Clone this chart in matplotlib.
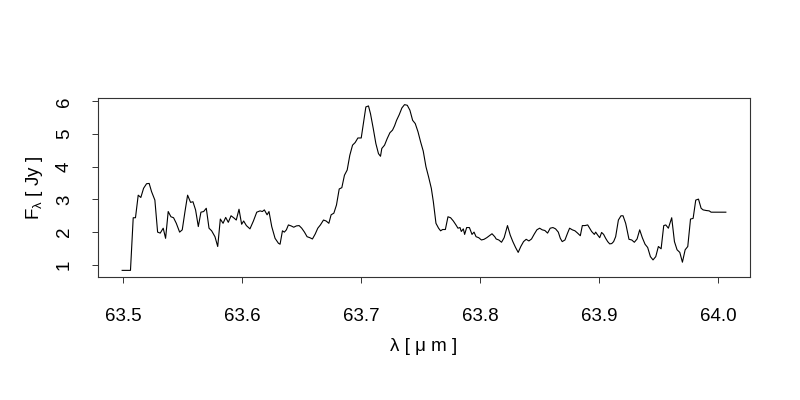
import matplotlib
matplotlib.use('Agg')
import matplotlib.pyplot as plt
from matplotlib import ticker

# wavelength [um] and flux [Jy]
wave = [63.4992, 63.5062, 63.5085, 63.5104, 63.5127, 63.5149, 63.5172, 63.5197,
        63.5219, 63.5239, 63.5267, 63.5290, 63.5312, 63.5337, 63.5357, 63.5379,
        63.5402, 63.5424, 63.5447, 63.5475, 63.5497, 63.5520, 63.5542, 63.5567,
        63.5587, 63.5609, 63.5632, 63.5654, 63.5677, 63.5699, 63.5722, 63.5744,
        63.5772, 63.5795, 63.5817, 63.5840, 63.5862, 63.5884, 63.5907,
        63.5929, 63.5951, 63.5974, 63.5996, 63.6013, 63.6036, 63.6066, 63.6095,
        63.6123, 63.6151, 63.6170, 63.6187, 63.6210, 63.6226, 63.6249, 63.6277,
        63.6305, 63.6319, 63.6339, 63.6355, 63.6372, 63.6389, 63.6412, 63.6434,
        63.6456, 63.6479, 63.6501, 63.6524, 63.6546, 63.6569, 63.6591, 63.6614,
        63.6636, 63.6658, 63.6684, 63.6706, 63.6729, 63.6748, 63.6771, 63.6793,
        63.6816, 63.6838, 63.6860, 63.6883, 63.6905, 63.6928, 63.6950, 63.6973,
        63.7001,
        63.7017, 63.7040, 63.7062, 63.7079, 63.7102, 63.7124, 63.7146, 63.7163,
        63.7174, 63.7197, 63.7219, 63.7242, 63.7264, 63.7281, 63.7298, 63.7320,
        63.7343, 63.7365, 63.7388, 63.7410, 63.7433, 63.7455, 63.7478, 63.7500,
        63.7522, 63.7545, 63.7567, 63.7590, 63.7607, 63.7629, 63.7651, 63.7668,
        63.7685, 63.7708, 63.7730, 63.7752, 63.7775, 63.7797, 63.7814, 63.7831,
        63.7842, 63.7859, 63.7870, 63.7887, 63.7910, 63.7932, 63.7949, 63.7966,
        63.7988, 63.8011, 63.8033, 63.8056, 63.8078, 63.8100, 63.8123,
        63.8135, 63.8157, 63.8180, 63.8202, 63.8230, 63.8253, 63.8275, 63.8298,
        63.8320, 63.8342, 63.8365, 63.8387, 63.8410, 63.8432, 63.8455, 63.8477,
        63.8500, 63.8522, 63.8544, 63.8567, 63.8589, 63.8612, 63.8634, 63.8657,
        63.8674, 63.8690, 63.8713, 63.8735, 63.8752, 63.8775, 63.8797, 63.8819,
        63.8842, 63.8859, 63.8881, 63.8904, 63.8920, 63.8937, 63.8960, 63.8971,
        63.8988, 63.9005, 63.9021, 63.9038, 63.9055, 63.9072, 63.9089, 63.9106,
        63.9122, 63.9139, 63.9162, 63.9184, 63.9201, 63.9223,
        63.9229, 63.9251, 63.9274, 63.9296, 63.9319, 63.9341, 63.9363, 63.9386,
        63.9408, 63.9431, 63.9453, 63.9476, 63.9498, 63.9521, 63.9543, 63.9560,
        63.9582, 63.9610, 63.9633, 63.9655, 63.9678, 63.9700, 63.9723, 63.9745,
        63.9768, 63.9790, 63.9812, 63.9835, 63.9857, 63.9874, 63.9902, 63.9925,
        63.9941, 64.0065]

flux = [0.83, 0.83, 2.44, 2.44, 3.13, 3.06, 3.34, 3.48,
        3.49, 3.24, 2.98, 2.00, 1.97, 2.12, 1.81, 2.63,
        2.47, 2.44, 2.27, 2.00, 2.07, 2.63, 3.13, 2.91,
        2.93, 2.68, 2.17, 2.61, 2.63, 2.73, 2.12, 2.04,
        1.86, 1.56, 2.40, 2.27, 2.45, 2.30, 2.50,
        2.44, 2.37, 2.70, 2.24, 2.34, 2.20, 2.10, 2.34,
        2.61, 2.65, 2.63, 2.68, 2.53, 2.63, 2.17, 1.81,
        1.66, 1.63, 2.04, 2.00, 2.07, 2.22, 2.19, 2.15,
        2.19, 2.20, 2.12, 2.00, 1.86, 1.83, 1.79, 1.94,
        2.12, 2.22, 2.37, 2.34, 2.27, 2.53, 2.58, 2.83,
        3.32, 3.36, 3.74, 3.90, 4.35, 4.66, 4.74, 4.88,
        4.88,
        5.27, 5.83, 5.86, 5.62, 5.17, 4.71, 4.40, 4.32,
        4.56, 4.66, 4.86, 5.04, 5.12, 5.25, 5.42, 5.59,
        5.80, 5.90, 5.88, 5.73, 5.42, 5.32, 5.07, 4.76,
        4.48, 4.00, 3.69, 3.34, 2.93, 2.27, 2.12, 2.04,
        2.08, 2.08, 2.47, 2.44, 2.34, 2.22, 2.12, 2.14,
        2.02, 2.10, 1.93, 2.14, 2.14, 1.93, 2.00, 1.86,
        1.83, 1.76, 1.78, 1.83, 1.89, 1.95, 1.86,
        1.79, 1.76, 1.69, 1.83, 2.20, 1.91, 1.71, 1.53,
        1.38, 1.56, 1.71, 1.78, 1.73, 1.79, 1.94, 2.07,
        2.12, 2.07, 2.05, 1.97, 2.12, 2.14, 2.10, 2.00,
        1.81, 1.71, 1.76, 1.97, 2.12, 2.07, 2.04, 1.97,
        1.89, 2.20, 2.20, 2.22, 2.12, 2.02, 1.93, 2.00,
        1.91, 1.83, 1.99, 1.93, 1.81, 1.71, 1.64, 1.65,
        1.71, 1.86, 2.37, 2.50, 2.50, 2.27,
        2.17, 1.78, 1.76, 1.69, 1.79, 2.07, 1.83, 1.63,
        1.53, 1.25, 1.15, 1.25, 1.56, 1.49, 2.20, 2.22,
        2.12, 2.44, 1.71, 1.46, 1.38, 1.08, 1.46, 1.56,
        2.40, 2.42, 2.98, 3.01, 2.73, 2.68, 2.66, 2.65,
        2.61, 2.61]

xticks = [63.5, 63.6, 63.7, 63.8, 63.9, 64.0]
yticks = [1, 2, 3, 4, 5, 6]

plt.rcParams['font.family'] = ['Liberation Sans', 'DejaVu Sans']
plt.rcParams['font.size'] = 13.5

fig = plt.figure(figsize=(8, 4), dpi=100)
ax = fig.add_axes([0.1225, 0.3075, 0.815, 0.4475])

ax.plot(wave, flux, color='black', linewidth=0.8)

# R-like 4% padding around the data
ax.margins(x=0.04, y=0.04)

ax.xaxis.set_major_locator(ticker.FixedLocator(xticks))
ax.xaxis.set_major_formatter(ticker.FixedFormatter(['{:.1f}'.format(x) for x in xticks]))
ax.yaxis.set_major_locator(ticker.FixedLocator(yticks))

ax.tick_params(axis='both', direction='out', length=4, width=0.7, color='#333333')
ax.tick_params(axis='x', pad=18)
ax.tick_params(axis='y', pad=14)
for lab in ax.get_yticklabels():
    lab.set_rotation(90)
    lab.set_va('center')

for sp in ax.spines.values():
    sp.set_linewidth(0.8)
    sp.set_color('#333333')

ax.set_xlabel('\u03bb [ \u03bc m ]', labelpad=10)
ax.set_ylabel(r'F$_\mathregular{\lambda}$ [ Jy ]', labelpad=8)

fig.savefig('out.png', dpi=100)
